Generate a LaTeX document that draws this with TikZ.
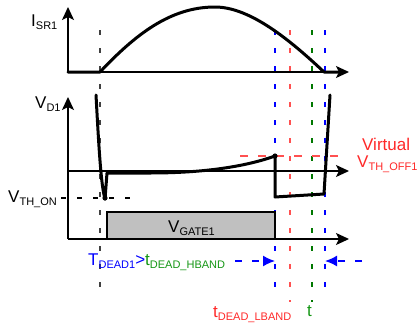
\documentclass[tikz,border=0pt]{standalone}
\usepackage{fontspec}
\setmainfont{Liberation Sans}
\usetikzlibrary{arrows.meta}
\definecolor{myred}{RGB}{255,40,40}
\definecolor{mydred}{RGB}{255,80,80}
\definecolor{mygreen}{RGB}{20,150,20}
\definecolor{mydgreen}{RGB}{0,120,0}
\definecolor{gatefill}{RGB}{192,192,192}
\newcommand{\sbx}[1]{\raisebox{-3pt}{\fontsize{11}{12}\selectfont #1}}
\begin{document}
\begin{tikzpicture}[x=1pt,y=-1pt,
  lbl/.style={anchor=base west,inner sep=0pt,font=\fontsize{17}{18}\selectfont},
  axis/.style={line width=1.5pt,-{Stealth[length=13pt,width=12pt,inset=3pt]}},
  wave/.style={line width=3pt,line join=round,line cap=round},
  vdash/.style={line width=1.3pt,dash pattern=on 5pt off 13pt},
  barrow/.style={blue,line width=1.5pt,dash pattern=on 7pt off 10pt,-{Latex[length=12pt,width=11pt]}}]
\useasboundingbox (0,0) rectangle (419,324);
% vertical dashed time markers
\draw[vdash,black!75] (100,30) -- (100,290);
\draw[vdash,blue] (275,30) -- (275,290);
\draw[vdash,mydred] (290,30) -- (290,302);
\draw[vdash,mydgreen] (312,30) -- (312,302);
\draw[vdash,blue] (325,30) -- (325,290);
% top axis
\coordinate (o1) at (68,72);
\draw[axis] (o1) -- (68,7);
\draw[axis] (o1) -- (349,72);
\draw[wave] (o1) -- (100,72) .. controls (135,35) and (170,7) .. (215,7)
   .. controls (250,7) and (290,40) .. (324,72) -- (338,72);
% lower axes
\draw[gatefill!100,fill=gatefill,draw=black,line width=1.3pt] (107,239) rectangle (275,212);
\draw[axis] (68,239) -- (68,97);
\draw[axis] (68,171) -- (349,171);
\draw[axis] (68,239) -- (349,239);
% thresholds
\draw[black,line width=1.2pt,dash pattern=on 5pt off 11pt] (61,198) -- (134,198);
\draw[mydred,line width=1.2pt,dash pattern=on 8pt off 10pt] (240,156) -- (342,156);
% V_D1 waveform
\draw[wave] (96,95) .. controls (99,150) and (101,185) .. (105,199) -- (107,173)
   -- (150,173) .. controls (210,173) and (250,165) .. (275,156)
   -- (275,197) -- (324,194) -- (330,95);
\fill (105,198) circle (2.6pt);
\fill (275,156) circle (2.6pt);
% bottom arrows
\coordinate (la) at (235,261);
\coordinate (lb) at (275,261);
\coordinate (ra) at (362,261);
\coordinate (rb) at (325,261);
\draw[barrow] (la) -- (lb);
\draw[barrow] (ra) -- (rb);
% labels
\node[lbl] (isr) at (31,26) {I\sbx{SR1}};
\node[lbl] (vd) at (35,108) {V\sbx{D1}};
\node[lbl] (vth) at (8,202) {V\sbx{TH\_ON}};
\node[lbl] (vg) at (168,232) {V\sbx{GATE1}};
\node[lbl,text=myred] (virt) at (362,150) {Virtual};
\node[lbl,text=myred] (voff) at (357,167) {V\sbx{TH\_OFF1}};
\node[lbl] (td) at (88,265) {\textcolor{blue}{T\sbx{DEAD1}>}\textcolor{mygreen}{t\sbx{DEAD\_HBAND}}};
\node[lbl,text=myred] (tl) at (213,317) {t\sbx{DEAD\_LBAND}};
\node[lbl,text=mygreen] (tt) at (307,316) {t};
\end{tikzpicture}
\end{document}
